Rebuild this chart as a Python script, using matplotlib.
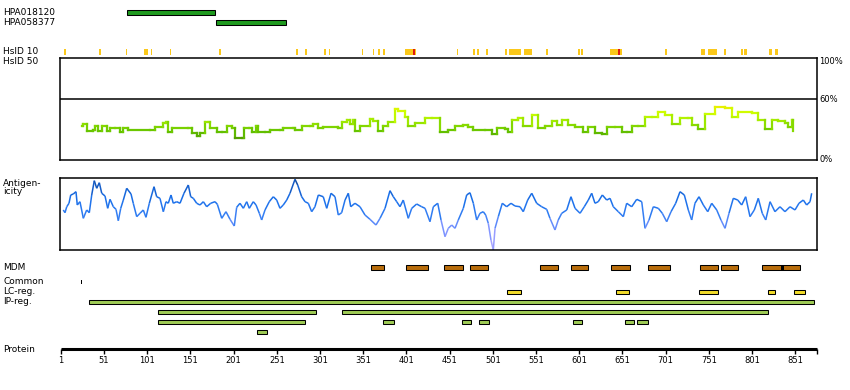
import matplotlib
matplotlib.use("Agg")
import matplotlib.pyplot as plt
import numpy as np
from matplotlib.patches import Rectangle
from matplotlib.collections import LineCollection
from matplotlib.colors import LinearSegmentedColormap

# ---- data (residue positions, protein length 876) ----
protein_len = 876
tick_pos = [1, 51, 101, 151, 201, 251, 301, 351, 401, 451, 501, 551, 601, 651, 701, 751, 801, 851]

antibody_names = ["HPA018120", "HPA058377"]
antibody_start = [78, 181]
antibody_end = [179, 262]

hsid10_start = [5, 45, 76, 97, 105, 127, 184, 273, 284, 306, 311, 349, 362, 368, 374, 399, 459, 478, 483,
                 493, 515, 520, 537, 562, 600, 603, 637, 700, 742, 750, 768, 788, 792, 821, 827]
hsid10_end = [7, 47, 77, 102, 106, 129, 186, 275, 286, 308, 313, 351, 364, 370, 376, 412, 461, 480, 485,
              495, 517, 533, 546, 565, 602, 605, 650, 702, 746, 760, 771, 791, 795, 824, 831]
hsid10_red = [(409, 411), (646, 648)]

hsid50_pos = [25.1, 27.0, 31.6, 38.5, 40.5, 44.3, 48.3, 54.1, 57.9, 63.7, 69.4, 73.3, 79.1, 104.2, 110.0,
              119.6, 122.3, 125.3, 129.3, 148.5, 152.4, 158.2, 162.0, 167.8, 171.6, 173.6, 181.4, 187.2,
              192.9, 198.7, 202.5, 210.3, 213.3, 219.1, 221.9, 226.9, 229.5, 237.3, 243.1, 254.6, 258.4,
              270.0, 272.0, 279.7, 289.4, 292.5, 299.0, 304.7, 322.1, 326.0, 331.8, 335.6, 338.8, 341.4,
              347.2, 358.8, 362.6, 367.7, 374.2, 380.0, 387.7, 391.6, 399.3, 403.1, 410.9, 422.5, 430.2,
              439.8, 449.4, 457.2, 466.8, 472.6, 478.4, 491.9, 499.7, 505.4, 515.0, 518.2, 523.5, 530.4,
              536.2, 546.6, 553.6, 561.3, 569.1, 574.9, 580.7, 588.3, 596.1, 605.7, 611.5, 619.2, 627.0,
              632.8, 642.4, 650.1, 655.9, 661.7, 669.3, 677.1, 684.8, 692.5, 700.2, 708.0, 717.6, 727.2,
              731.1, 738.8, 746.5, 758.1, 769.7, 777.4, 785.1, 800.6, 808.2, 816.0, 823.7, 831.4, 839.1,
              843.0, 846.9, 848.7]
hsid50_val = [33.6, 35.0, 28.4, 29.4, 33.3, 28.4, 33.6, 28.4, 31.7, 31.7, 27.7, 31.7, 29.4, 29.4, 32.6,
              36.6, 37.5, 27.2, 31.7, 31.7, 26.2, 23.8, 26.2, 37.5, 37.5, 31.7, 27.2, 27.2, 33.3, 31.1,
              21.3, 21.3, 31.7, 31.7, 27.2, 33.6, 27.2, 27.2, 29.4, 29.4, 31.7, 31.7, 29.4, 33.3, 33.3,
              35.6, 31.7, 32.6, 31.7, 37.5, 39.2, 35.3, 39.2, 28.4, 33.3, 39.9, 38.2, 28.4, 33.3, 37.5,
              49.7, 48.0, 42.5, 33.6, 36.6, 41.5, 40.9, 27.2, 29.4, 33.3, 34.3, 32.6, 29.4, 29.4, 25.2,
              31.7, 30.4, 27.2, 39.2, 41.5, 33.6, 44.1, 31.7, 33.6, 38.5, 34.3, 39.2, 34.3, 32.6, 27.7,
              32.6, 26.2, 25.2, 32.6, 32.6, 27.2, 27.2, 33.3, 33.3, 42.5, 42.5, 46.8, 44.1, 35.0, 41.5,
              40.9, 34.3, 30.4, 44.8, 52.3, 51.3, 42.5, 46.8, 45.8, 39.2, 30.4, 39.2, 38.5, 36.0, 32.6,
              39.2, 28.4]

antigen_pos = [3.8, 5.8, 7.8, 10.4, 12.4, 15.4, 18.5, 20.0, 23.1, 27.0, 30.9, 33.9, 36.7, 39.7, 42.5, 45.5,
               48.3, 52.1, 55.2, 57.9, 61.7, 64.8, 67.5, 70.3, 73.3, 77.2, 82.2, 84.8, 88.8, 92.6, 96.4,
               99.5, 103.4, 108.8, 111.9, 115.7, 119.6, 122.7, 125.3, 128.5, 131.1, 135.1, 138.9, 143.5,
               148.5, 151.3, 154.3, 158.2, 162.0, 165.9, 169.8, 174.4, 179.4, 182.1, 187.2, 192.1, 196.8,
               201.7, 204.5, 208.3, 212.2, 216.1, 219.1, 223.7, 226.9, 230.7, 233.4, 237.3, 242.2, 246.9,
               250.8, 254.6, 258.4, 262.4, 266.2, 272.0, 275.1, 279.7, 283.6, 287.4, 291.3, 295.1, 299.0,
               304.7, 308.7, 313.7, 318.3, 322.1, 326.0, 329.9, 333.7, 336.5, 341.4, 347.2, 353.0, 358.8,
               365.7, 370.4, 376.2, 381.9, 385.8, 389.7, 393.5, 397.3, 403.1, 407.1, 412.8, 418.6, 422.5,
               428.2, 432.1, 437.2, 441.0, 445.6, 449.4, 453.4, 457.2, 461.0, 466.8, 470.7, 474.5, 478.4,
               482.3, 486.1, 489.9, 492.7, 495.7, 498.8, 501.5, 503.5, 507.3, 511.9, 517.0, 522.0, 526.6,
               532.4, 536.2, 541.3, 546.0, 551.7, 557.5, 563.3, 567.1, 572.9, 576.7, 580.7, 586.5, 591.4,
               596.1, 601.9, 606.8, 611.5, 615.4, 619.2, 623.0, 627.7, 632.8, 636.6, 640.4, 646.2, 652.0,
               655.9, 661.7, 667.5, 673.3, 677.1, 681.7, 686.7, 692.5, 697.1, 702.2, 707.2, 712.6, 717.6,
               722.6, 727.2, 731.1, 734.9, 739.6, 744.6, 749.7, 754.3, 760.1, 765.0, 769.7, 774.3, 779.3,
               784.4, 789.0, 793.6, 798.6, 803.6, 808.2, 812.8, 816.8, 821.8, 827.5, 833.3, 839.1, 844.9,
               850.7, 855.3, 860.3, 864.2, 868.1, 870.0]
antigen_val = [0.556, 0.518, 0.601, 0.649, 0.764, 0.778, 0.810, 0.625, 0.671, 0.440, 0.556, 0.518, 0.764,
               0.963, 0.857, 0.935, 0.788, 0.750, 0.579, 0.704, 0.601, 0.565, 0.407, 0.579, 0.694, 0.857,
               0.778, 0.649, 0.463, 0.510, 0.556, 0.454, 0.649, 0.879, 0.740, 0.718, 0.532, 0.671, 0.649,
               0.764, 0.649, 0.671, 0.649, 0.788, 0.903, 0.740, 0.718, 0.649, 0.625, 0.671, 0.601, 0.649,
               0.671, 0.635, 0.440, 0.532, 0.426, 0.333, 0.593, 0.649, 0.579, 0.671, 0.579, 0.671, 0.625,
               0.510, 0.417, 0.556, 0.671, 0.740, 0.694, 0.579, 0.625, 0.694, 0.788, 0.982, 0.903, 0.740,
               0.671, 0.649, 0.532, 0.601, 0.764, 0.740, 0.579, 0.788, 0.740, 0.486, 0.518, 0.694, 0.788,
               0.601, 0.649, 0.601, 0.486, 0.426, 0.347, 0.440, 0.579, 0.824, 0.740, 0.671, 0.601, 0.694,
               0.440, 0.579, 0.639, 0.601, 0.579, 0.393, 0.601, 0.649, 0.417, 0.185, 0.301, 0.347, 0.301,
               0.417, 0.579, 0.764, 0.796, 0.649, 0.417, 0.510, 0.532, 0.486, 0.371, 0.139, 0.0, 0.301,
               0.463, 0.649, 0.601, 0.649, 0.611, 0.601, 0.532, 0.694, 0.788, 0.649, 0.601, 0.565, 0.440,
               0.278, 0.417, 0.510, 0.556, 0.740, 0.579, 0.510, 0.601, 0.694, 0.788, 0.649, 0.671, 0.764,
               0.694, 0.718, 0.601, 0.532, 0.463, 0.649, 0.601, 0.704, 0.671, 0.301, 0.417, 0.601, 0.579,
               0.510, 0.393, 0.532, 0.649, 0.810, 0.764, 0.556, 0.417, 0.649, 0.740, 0.625, 0.532, 0.649,
               0.556, 0.417, 0.301, 0.510, 0.718, 0.694, 0.625, 0.740, 0.463, 0.556, 0.718, 0.510, 0.417,
               0.671, 0.532, 0.601, 0.532, 0.601, 0.556, 0.649, 0.694, 0.625, 0.671, 0.788]

mdm_start = [360, 400, 445, 475, 556, 592, 638, 681, 741, 765, 813]
mdm_end = [375, 426, 466, 495, 576, 611, 660, 706, 761, 785, 857]
mdm_dark = (834, 838)

common_pos = [(24, 25)]

lc_start = [517, 644, 740, 820, 850]
lc_end = [533, 658, 761, 828, 862]

ip_rows = [
    [(34, 873)],
    [(113, 296), (326, 819)],
    [(113, 283), (374, 386), (465, 476), (485, 497), (594, 604), (654, 664), (668, 681)],
    [(228, 240)],
]

# ---- layout in pixels ----
W, H = 850, 390
X0, SCALE = 60, 0.864     # pixel of residue 0, pixels per residue

fig = plt.figure(figsize=(W / 100, H / 100), dpi=100)
ax = fig.add_axes([0, 0, 1, 1])
ax.set_xlim(-X0 / SCALE, (W - X0) / SCALE)
ax.set_ylim(H, 0)
ax.axis('off')

lab = ax.get_yaxis_transform()  # x in axes fraction, y in pixel rows


def left_label(y, s):
    ax.text(3 / W, y, s, transform=lab, fontsize=6.5, va='center', ha='left', family='DejaVu Sans')


def bar(a, b, y, h, color, lw=0.75):
    ax.add_patch(Rectangle((a, y), b - a, h, facecolor=color, edgecolor='black', linewidth=lw))


def step_segments(x, y):
    # horizontal run then vertical jump, like the pixel plot
    x = np.asarray(x)
    y = np.asarray(y)
    segs, vals = [], []
    for i in range(len(x) - 1):
        segs.append([(x[i], y[i]), (x[i + 1], y[i])])
        vals.append(y[i])
        segs.append([(x[i + 1], y[i]), (x[i + 1], y[i + 1])])
        vals.append((y[i] + y[i + 1]) / 2)
    return segs, np.array(vals)


# antibodies
for i, name in enumerate(antibody_names):
    left_label(12.5 + 10 * i, name)
    bar(antibody_start[i], antibody_end[i], 10 + 10 * i, 4.7, '#1f9a1f')

# HsID 10 marks
left_label(52, "HsID 10")
left_label(62, "HsID 50")
for a, b in zip(hsid10_start, hsid10_end):
    ax.add_patch(Rectangle((a, 49.3), b - a, 5.5, facecolor='#fbc81a', edgecolor='none'))
for a, b in hsid10_red:
    ax.add_patch(Rectangle((a, 49.3), b - a, 5.5, facecolor='#e01b10', edgecolor='none'))

# HsID 50 panel
ax1 = fig.add_axes([X0 / W, (H - 160) / H, 757 / W, 102 / H])
ax1.set_xlim(0, 757 / SCALE)
ax1.set_ylim(0, 100)
ax1.set_xticks([])
ax1.set_yticks([])
for s in ax1.spines.values():
    s.set_linewidth(1.1)
ax1.axhline(60, color='black', lw=1.1)
cm_hs = LinearSegmentedColormap.from_list('hs', ['#4f9a00', '#66c400', '#99e600', '#ccff00', '#eeee00'])
segs, vals = step_segments(hsid50_pos, hsid50_val)
ax1.add_collection(LineCollection(segs, colors=cm_hs(np.clip((vals - 20) / 34, 0, 1)),
                                  linewidths=1.6, capstyle='projecting'))
for y, s in [(62, "100%"), (100, "60%"), (159, "0%")]:
    ax.text(819 / W, y, s, transform=lab, fontsize=6, va='center', ha='left')

# antigenicity panel
left_label(183, "Antigen-")
left_label(192, "icity")
ax2 = fig.add_axes([X0 / W, (H - 250) / H, 757 / W, 72 / H])
ax2.set_xlim(0, 757 / SCALE)
ax2.set_ylim(0, 1)
ax2.set_xticks([])
ax2.set_yticks([])
for s in ax2.spines.values():
    s.set_linewidth(1.1)
cm_ag = LinearSegmentedColormap.from_list('ag', [(0, '#b4a8ff'), (0.3, '#7a92ff'), (0.5, '#2f7cf2'),
                                                 (0.7, '#1a70ea'), (0.88, '#145cc8'), (1, '#0b3f8a')])
pts = np.column_stack([antigen_pos, antigen_val])
segs = np.stack([pts[:-1], pts[1:]], axis=1)
mid = (np.array(antigen_val[:-1]) + np.array(antigen_val[1:])) / 2
ax2.add_collection(LineCollection(segs, colors=cm_ag(mid), linewidths=1.1))

# feature tracks
left_label(267, "MDM")
for a, b in zip(mdm_start, mdm_end):
    bar(a, b, 265.3, 5, '#b86d0c')
ax.add_patch(Rectangle((mdm_dark[0], 265.3), mdm_dark[1] - mdm_dark[0], 5, facecolor='black', edgecolor='none'))

left_label(282, "Common")
for a, b in common_pos:
    ax.add_patch(Rectangle((a, 280), b - a, 4.3, facecolor='black', edgecolor='none'))

left_label(292, "LC-reg.")
for a, b in zip(lc_start, lc_end):
    bar(a, b, 290.3, 4, '#f2dc2a')

left_label(302, "IP-reg.")
for r, row in enumerate(ip_rows):
    for a, b in row:
        bar(a, b, 300.3 + 10 * r, 4, '#9fcb55')

# protein ruler
left_label(349, "Protein")
ax.plot([1, protein_len], [349.3, 349.3], color='black', lw=2.2, solid_capstyle='butt')
ax.vlines(tick_pos + [protein_len], 349.3, 354, color='black', lw=1)
for t in tick_pos:
    ax.text(t, 356, str(t), fontsize=6, ha='center', va='top')

fig.savefig('out.png', dpi=100)
